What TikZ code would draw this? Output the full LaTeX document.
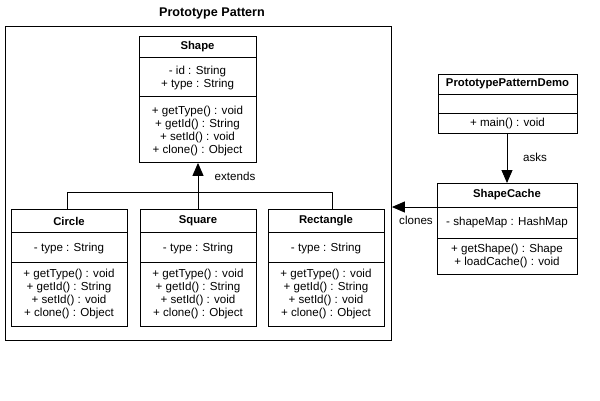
\documentclass[tikz,border=0pt]{standalone}
\usepackage{fontspec}
\setmainfont{Liberation Sans}
\usetikzlibrary{arrows.meta}
\begin{document}
\begin{tikzpicture}[x=1pt,y=-1pt,
  box/.style={draw, line width=0.9pt, fill=white, anchor=north west, inner sep=0pt},
  sep/.style={line width=0.9pt},
  hdr/.style={font=\fontsize{11.3}{12}\selectfont\bfseries, inner sep=0pt},
  txt/.style={font=\fontsize{11.6}{13.3}\selectfont, align=center, inner sep=0pt},
  lbl/.style={font=\fontsize{11.6}{12}\selectfont, inner sep=0pt},
  conn/.style={line width=0.9pt},
  tri/.style={-{Triangle[length=13pt,width=11pt]}, line width=0.9pt}]
\useasboundingbox (0,0) rectangle (600,400);
\fill[white] (0,0) rectangle (600,400);
% outer package frame
\node[box, minimum width=386pt, minimum height=314pt] (frame) at (5,26) {};
\node[lbl, font=\fontsize{12.6}{13}\selectfont\bfseries] (title) at (212,13) {Prototype Pattern};
% Shape
\node[box, minimum width=117pt, minimum height=126pt] (shape) at (139,36) {};
\draw[sep] (139,57) -- (256,57);
\draw[sep] (139,96) -- (256,96);
\node[hdr] (shapeH) at (197.5,46.5) {Shape};
\node[txt] (shapeA) at (197.5,78) {- id : String\\+ type : String};
\node[txt] (shapeM) at (197.5,131) {+ getType() : void\\+ getId() : String\\+ setId() : void\\+ clone() : Object};
% Circle
\node[box, minimum width=116pt, minimum height=117pt] (circle) at (11,209) {};
\draw[sep] (11,232) -- (127,232);
\draw[sep] (11,262) -- (127,262);
\node[hdr] (circleH) at (69,221) {Circle};
\node[txt] (circleA) at (69,248) {- type : String};
\node[txt] (circleM) at (69,294) {+ getType() : void\\+ getId() : String\\+ setId() : void\\+ clone() : Object};
% Square
\node[box, minimum width=116pt, minimum height=117pt] (square) at (140,209) {};
\draw[sep] (140,232) -- (256,232);
\draw[sep] (140,262) -- (256,262);
\node[hdr] (squareH) at (198,221) {Square};
\node[txt] (squareA) at (198,248) {- type : String};
\node[txt] (squareM) at (198,294) {+ getType() : void\\+ getId() : String\\+ setId() : void\\+ clone() : Object};
% Rectangle
\node[box, minimum width=116pt, minimum height=117pt] (rect) at (268,209) {};
\draw[sep] (268,232) -- (384,232);
\draw[sep] (268,262) -- (384,262);
\node[hdr] (rectH) at (326,221) {Rectangle};
\node[txt] (rectA) at (326,248) {- type : String};
\node[txt] (rectM) at (326,294) {+ getType() : void\\+ getId() : String\\+ setId() : void\\+ clone() : Object};
% PrototypePatternDemo
\node[box, minimum width=139pt, minimum height=59pt] (demo) at (438,74) {};
\draw[sep] (438,94) -- (577,94);
\draw[sep] (438,113) -- (577,113);
\node[hdr] (demoH) at (507.5,84) {PrototypePatternDemo};
\node[txt] (demoM) at (507.5,123) {+ main() : void};
% ShapeCache
\node[box, minimum width=140pt, minimum height=91pt] (cache) at (437,183) {};
\draw[sep] (437,207) -- (577,207);
\draw[sep] (437,238) -- (577,238);
\node[hdr] (cacheH) at (507,195) {ShapeCache};
\node[txt] (cacheA) at (507,222) {- shapeMap : HashMap};
\node[txt] (cacheM) at (507,256) {+ getShape() : Shape\\+ loadCache() : void};
% inheritance connectors
\coordinate (j) at (198,192);
\draw[conn] (circle.north -| 67,0) |- (j);
\draw[conn] (rect.north -| 332,0) |- (j);
\draw[conn] (square.north -| 198,0) -- (j);
\draw[tri] (j) -- (shape.south -| 198,0);
\node[lbl] (ext) at (235,176) {extends};
% asks
\draw[tri] (demo.south -| 507,0) -- (cache.north -| 507,0);
\node[lbl] (asks) at (535,157) {asks};
% clones
\draw[tri] (cache.west |- 0,207) -- (frame.east |- 0,207);
\node[lbl] (clones) at (416,220) {clones};
\end{tikzpicture}
\end{document}
